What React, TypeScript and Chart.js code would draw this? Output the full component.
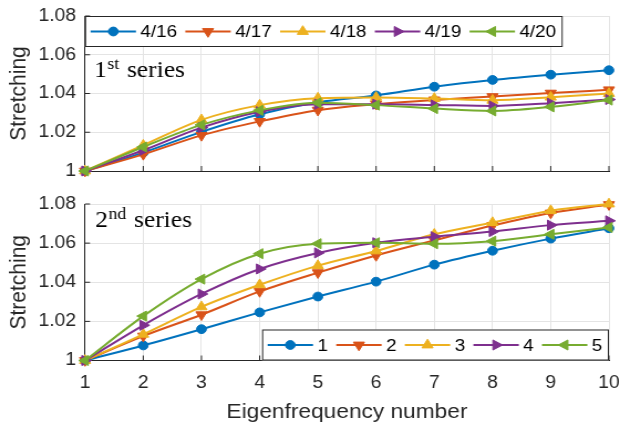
import React, { useEffect, useRef } from "react";
import { Chart, registerables } from "chart.js";

Chart.register(...registerables);

// ---------- data ----------
const eigenNumbers = ["1", "2", "3", "4", "5", "6", "7", "8", "9", "10"];
const yTickValues = [1, 1.02, 1.04, 1.06, 1.08];

const firstSeriesLabels = ["4/16", "4/17", "4/18", "4/19", "4/20"];
const first_0416 = [1.0, 1.0095, 1.0202, 1.0293, 1.0355, 1.039, 1.0435, 1.047, 1.0497, 1.052];
const first_0417 = [1.0, 1.0086, 1.0184, 1.0256, 1.0314, 1.0345, 1.0367, 1.0384, 1.0402, 1.0419];
const first_0418 = [1.0, 1.0133, 1.0264, 1.034, 1.0376, 1.038, 1.0374, 1.0365, 1.0381, 1.04];
const first_0419 = [1.0, 1.0107, 1.0224, 1.0306, 1.0345, 1.0345, 1.0341, 1.0336, 1.035, 1.0369];
const first_0420 = [1.0, 1.0124, 1.0238, 1.0313, 1.0352, 1.034, 1.0322, 1.031, 1.0331, 1.0366];

const secondSeriesLabels = ["1", "2", "3", "4", "5"];
const second_1 = [1.0, 1.0077, 1.016, 1.0246, 1.0327, 1.0403, 1.049, 1.0561, 1.0623, 1.0676];
const second_2 = [1.0, 1.0125, 1.0234, 1.0353, 1.0449, 1.0537, 1.0614, 1.069, 1.0754, 1.0797];
const second_3 = [1.0, 1.0134, 1.0274, 1.0387, 1.0485, 1.056, 1.0645, 1.0705, 1.0766, 1.08];
const second_4 = [1.0, 1.018, 1.034, 1.0468, 1.055, 1.0602, 1.0633, 1.0659, 1.0692, 1.0714];
const second_5 = [1.0, 1.0227, 1.0416, 1.0546, 1.0597, 1.0602, 1.0597, 1.061, 1.0645, 1.068];

// ---------- styles ----------
const COLORS = ["#0072BD", "#D95319", "#EDB120", "#7E2F8E", "#77AC30"];
const MARKERS = [
  { style: "circle", rotation: 0, radius: 4.4 },
  { style: "triangle", rotation: 180, radius: 5.8 },
  { style: "triangle", rotation: 0, radius: 5.8 },
  { style: "triangle", rotation: 90, radius: 5.8 },
  { style: "triangle", rotation: 270, radius: 5.8 },
];

const W = 560;
const H = 428;
const SCREEN_W = 620;
const PLOT_LEFT = 76.8;
const PLOT_RIGHT = 550;
const SANS = '"Liberation Sans", Arial, Helvetica, sans-serif';
const SERIF = '"Liberation Serif", "Times New Roman", serif';
const AXIS_COLOR = "#262626";
const GRID_COLOR = "#e4e4e4";
const TEXT_COLOR = "#262626";

function makeDatasets(labels: string[], series: number[][]) {
  return series.map((data, i) => ({
    label: labels[i],
    data,
    borderColor: COLORS[i],
    backgroundColor: COLORS[i],
    pointBackgroundColor: COLORS[i],
    pointBorderColor: COLORS[i],
    pointBorderWidth: 1,
    pointStyle: MARKERS[i].style,
    pointRotation: MARKERS[i].rotation,
    pointRadius: MARKERS[i].radius,
    borderWidth: 2,
    cubicInterpolationMode: "monotone",
    clip: false,
    order: series.length - i,
  }));
}

function drawMarker(ctx: CanvasRenderingContext2D, style: string, rotation: number, r: number, x: number, y: number, color: string) {
  ctx.save();
  ctx.fillStyle = color;
  ctx.strokeStyle = color;
  ctx.lineWidth = 1;
  ctx.beginPath();
  if (style === "circle") {
    ctx.arc(x, y, r, 0, Math.PI * 2);
  } else {
    let rad = (rotation * Math.PI) / 180;
    ctx.moveTo(x + Math.sin(rad) * r, y - Math.cos(rad) * r);
    rad += (2 * Math.PI) / 3;
    ctx.lineTo(x + Math.sin(rad) * r, y - Math.cos(rad) * r);
    rad += (2 * Math.PI) / 3;
    ctx.lineTo(x + Math.sin(rad) * r, y - Math.cos(rad) * r);
    ctx.closePath();
  }
  ctx.fill();
  ctx.stroke();
  ctx.restore();
}

const innerTicksPlugin = {
  id: "innerTicks",
  beforeDatasetsDraw(chart: any) {
    const { ctx, chartArea } = chart;
    const xs = chart.scales.x;
    const ys = chart.scales.y;
    ctx.save();
    ctx.strokeStyle = AXIS_COLOR;
    ctx.lineWidth = 1;
    ctx.beginPath();
    ys.ticks.forEach((_t: any, i: number) => {
      const py = ys.getPixelForTick(i);
      ctx.moveTo(chartArea.left, py);
      ctx.lineTo(chartArea.left + 4.5, py);
    });
    xs.ticks.forEach((_t: any, i: number) => {
      const px = xs.getPixelForTick(i);
      ctx.moveTo(px, chartArea.bottom);
      ctx.lineTo(px, chartArea.bottom - 5);
    });
    ctx.stroke();
    ctx.restore();
  },
};

const boxLegendPlugin = {
  id: "boxLegend",
  afterDraw(chart: any, _args: any, opts: any) {
    const { ctx, chartArea } = chart;
    const lineLen = 41;
    const gapText = 4;
    const gapItem = 7.5;
    const padL = 5;
    const padR = 6;
    ctx.save();
    ctx.font = `17px ${SANS}`;
    const items = chart.data.datasets.map((ds: any, i: number) => ({
      ds,
      i,
      w: ctx.measureText(ds.label).width,
    }));
    const total =
      padL +
      items.reduce((s: number, it: any) => s + lineLen + gapText + it.w, 0) +
      gapItem * (items.length - 1) +
      padR;
    const top = opts.top === "area" ? chartArea.top : opts.top;
    const bottom = opts.bottom === "area" ? chartArea.bottom : opts.bottom;
    const x0 = opts.anchor === "left" ? chartArea.left : chartArea.right - total;
    ctx.fillStyle = "#ffffff";
    ctx.fillRect(x0, top, total, bottom - top);
    ctx.strokeStyle = AXIS_COLOR;
    ctx.lineWidth = 1;
    ctx.strokeRect(x0 + 0.5, top + 0.5, total - 1, bottom - top - 1);
    const cy = (top + bottom) / 2;
    let x = x0 + padL;
    items.forEach((it: any) => {
      const color = it.ds.borderColor;
      ctx.strokeStyle = color;
      ctx.lineWidth = it.ds.borderWidth;
      ctx.beginPath();
      ctx.moveTo(x, cy);
      ctx.lineTo(x + lineLen, cy);
      ctx.stroke();
      drawMarker(ctx, it.ds.pointStyle, it.ds.pointRotation, it.ds.pointRadius, x + lineLen / 2, cy, color);
      ctx.fillStyle = "#000000";
      ctx.textBaseline = "middle";
      ctx.textAlign = "left";
      ctx.fillText(it.ds.label, x + lineLen + gapText, cy + 1);
      x += lineLen + gapText + it.w + gapItem;
    });
    ctx.restore();
  },
};

const seriesTextPlugin = {
  id: "seriesText",
  afterDraw(chart: any, _args: any, opts: any) {
    const { ctx } = chart;
    ctx.save();
    ctx.fillStyle = "#000000";
    ctx.textBaseline = "alphabetic";
    ctx.textAlign = "left";
    ctx.font = `23px ${SERIF}`;
    let x = opts.x;
    ctx.fillText(opts.base, x, opts.y);
    x += ctx.measureText(opts.base).width + 0.5;
    ctx.font = `16px ${SERIF}`;
    ctx.fillText(opts.sup, x, opts.y - 8);
    x += ctx.measureText(opts.sup).width + 7;
    ctx.font = `23px ${SERIF}`;
    ctx.fillText(opts.rest, x, opts.y);
    ctx.restore();
  },
};

function yScale(showTitle: boolean) {
  return {
    min: 1,
    max: 1.08,
    afterBuildTicks: (scale: any) => {
      scale.ticks = yTickValues.map((v) => ({ value: v }));
    },
    afterFit: (scale: any) => {
      scale.width = PLOT_LEFT;
      scale.paddingTop = 0;
      scale.paddingBottom = 0;
    },
    ticks: {
      font: { family: SANS, size: 17.5 },
      color: TEXT_COLOR,
      padding: 8,
      callback: (v: any) => String(Number(v)),
    },
    grid: { color: GRID_COLOR, drawTicks: false, tickLength: 0 },
    border: { display: true, color: AXIS_COLOR, width: 1 },
    title: {
      display: showTitle,
      text: "Stretching",
      font: { family: SANS, size: 21 },
      color: TEXT_COLOR,
      padding: { top: 5, bottom: 0 },
    },
  };
}

function xScale(showLabels: boolean, height: number) {
  return {
    type: "category",
    offset: false,
    afterFit: (scale: any) => {
      scale.height = height;
      scale.paddingLeft = 0;
      scale.paddingRight = 0;
    },
    ticks: {
      display: showLabels,
      font: { family: SANS, size: 17.5 },
      color: TEXT_COLOR,
      padding: 12,
      maxRotation: 0,
      autoSkip: false,
    },
    grid: { color: GRID_COLOR, drawTicks: false, tickLength: 0 },
    border: { display: true, color: AXIS_COLOR, width: 1 },
    title: {
      display: showLabels,
      text: "Eigenfrequency number",
      font: { family: SANS, size: 20.5 },
      color: TEXT_COLOR,
      padding: { top: 0, bottom: 3 },
    },
  };
}

function baseOptions(padding: any, xs: any, ys: any, legendOpts: any, textOpts: any) {
  return {
    responsive: false,
    animation: false,
    events: [],
    layout: { padding },
    scales: { x: xs, y: ys },
    plugins: {
      legend: { display: false },
      tooltip: { enabled: false },
      boxLegend: legendOpts,
      seriesText: textOpts,
    },
  };
}

export default function App() {
  const topRef = useRef<HTMLCanvasElement | null>(null);
  const botRef = useRef<HTMLCanvasElement | null>(null);

  useEffect(() => {
    const plugins = [innerTicksPlugin, boxLegendPlugin, seriesTextPlugin];
    const top = new Chart(topRef.current as HTMLCanvasElement, {
      type: "line",
      data: {
        labels: eigenNumbers,
        datasets: makeDatasets(firstSeriesLabels, [first_0416, first_0417, first_0418, first_0419, first_0420]) as any,
      },
      options: baseOptions(
        { left: 0, top: 16, right: W - PLOT_RIGHT, bottom: H - 171 },
        xScale(false, 0),
        yScale(true),
        { anchor: "left", top: "area", bottom: 47 },
        { base: "1", sup: "st", rest: "series", x: 85, y: 77 }
      ) as any,
      plugins: plugins as any,
    });
    const bot = new Chart(botRef.current as HTMLCanvasElement, {
      type: "line",
      data: {
        labels: eigenNumbers,
        datasets: makeDatasets(secondSeriesLabels, [second_1, second_2, second_3, second_4, second_5]) as any,
      },
      options: baseOptions(
        { left: 0, top: 204, right: W - PLOT_RIGHT, bottom: 0 },
        xScale(true, H - 360.5),
        yScale(true),
        { anchor: "right", top: 329.5, bottom: "area" },
        { base: "2", sup: "nd", rest: "series", x: 86, y: 227 }
      ) as any,
      plugins: plugins as any,
    });
    return () => {
      top.destroy();
      bot.destroy();
    };
  }, []);

  const canvasStyle: React.CSSProperties = {
    position: "absolute",
    left: 0,
    top: 0,
    width: `${SCREEN_W}px`,
    height: `${H}px`,
  };

  return (
    <div style={{ position: "fixed", left: 0, top: 0, width: SCREEN_W, height: H, background: "#ffffff" }}>
      <canvas ref={topRef} width={W} height={H} style={canvasStyle} />
      <canvas ref={botRef} width={W} height={H} style={canvasStyle} />
    </div>
  );
}
